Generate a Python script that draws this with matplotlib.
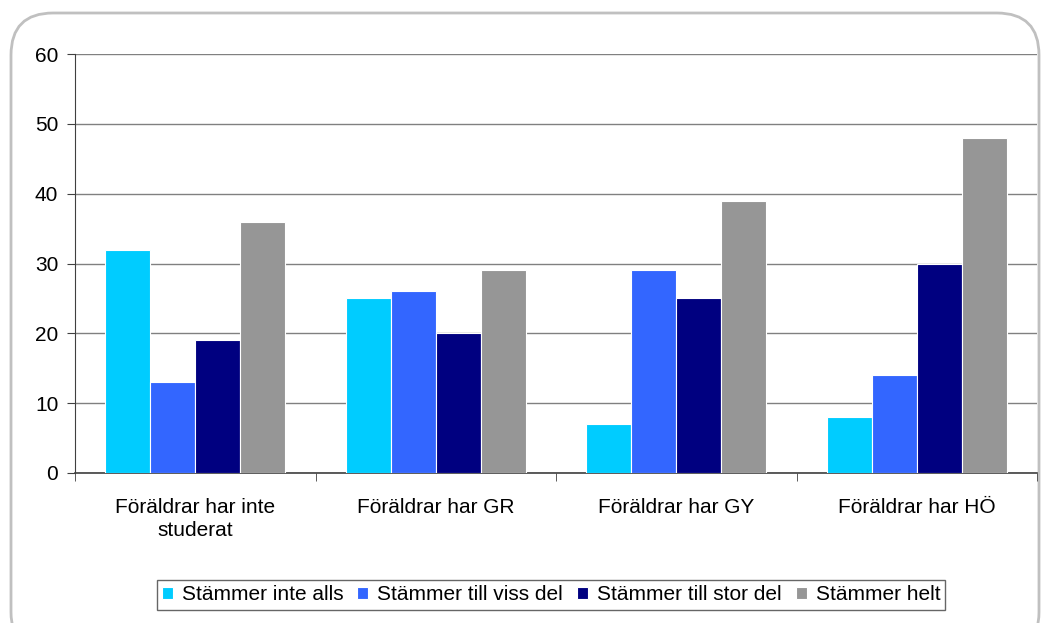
import numpy as np
import matplotlib
matplotlib.use('Agg')
import matplotlib.pyplot as plt
from matplotlib.patches import FancyBboxPatch

plt.rcParams['font.family'] = ['Liberation Sans', 'DejaVu Sans']

categories = ['Föräldrar har inte\nstuderat', 'Föräldrar har GR',
              'Föräldrar har GY', 'Föräldrar har HÖ']
series_names = ['Stämmer inte alls', 'Stämmer till viss del',
                'Stämmer till stor del', 'Stämmer helt']
inte_alls = [32, 25, 7, 8]
viss_del = [13, 26, 29, 14]
stor_del = [19, 20, 25, 30]
helt = [36, 29, 39, 48]
colors = ['#00CCFF', '#3366FF', '#000080', '#969696']

fig = plt.figure(figsize=(10.54, 6.23), dpi=100)

# rounded chart border
border = FancyBboxPatch((11 / 1054, -0.05), 1028 / 1054, 1 - 13 / 623 + 0.05,
                        boxstyle='round,pad=0,rounding_size=0.04',
                        transform=fig.transFigure, facecolor='none',
                        edgecolor='#C0C0C0', linewidth=2, zorder=-1,
                        mutation_aspect=1054 / 623)
fig.patches.append(border)

ax = fig.add_axes([75 / 1054, 1 - 473 / 623, (1037 - 75) / 1054, (473 - 54) / 623])
ax.set_facecolor('none')

x = np.arange(len(categories))
width = 0.1875
for i, (vals, name) in enumerate(zip([inte_alls, viss_del, stor_del, helt], series_names)):
    ax.bar(x + (i - 1.5) * width, vals, width, color=colors[i], label=name,
           edgecolor='white', linewidth=0.8, zorder=3)

ax.set_xlim(-0.5, len(categories) - 0.5)
ax.set_ylim(0, 60)
ax.set_yticks(range(0, 61, 10))
ax.yaxis.grid(True, color='#808080', linewidth=1, zorder=0)
ax.set_xticks(x)
ax.set_xticklabels(categories, fontsize=15, linespacing=1.3)
ax.set_xticks(np.arange(-0.5, len(categories), 1), minor=True)
ax.tick_params(axis='x', which='major', length=0, pad=18)
ax.tick_params(axis='x', which='minor', length=6, color='#404040')
ax.tick_params(axis='y', length=6, color='#404040', labelsize=15, pad=6)
for s in ['top', 'right']:
    ax.spines[s].set_visible(False)
ax.spines['left'].set_color('#404040')
ax.spines['bottom'].set_color('#404040')
ax.spines['bottom'].set_linewidth(1.2)

fig.legend(loc='center', bbox_to_anchor=(551 / 1054, 1 - 595 / 623), ncol=4,
           frameon=True, fancybox=False, edgecolor='#404040', fontsize=15,
           handlelength=0.53, handleheight=0.53, handletextpad=0.43,
           columnspacing=0.67, borderpad=0.25, borderaxespad=0)

fig.savefig('out.png', dpi=100)
